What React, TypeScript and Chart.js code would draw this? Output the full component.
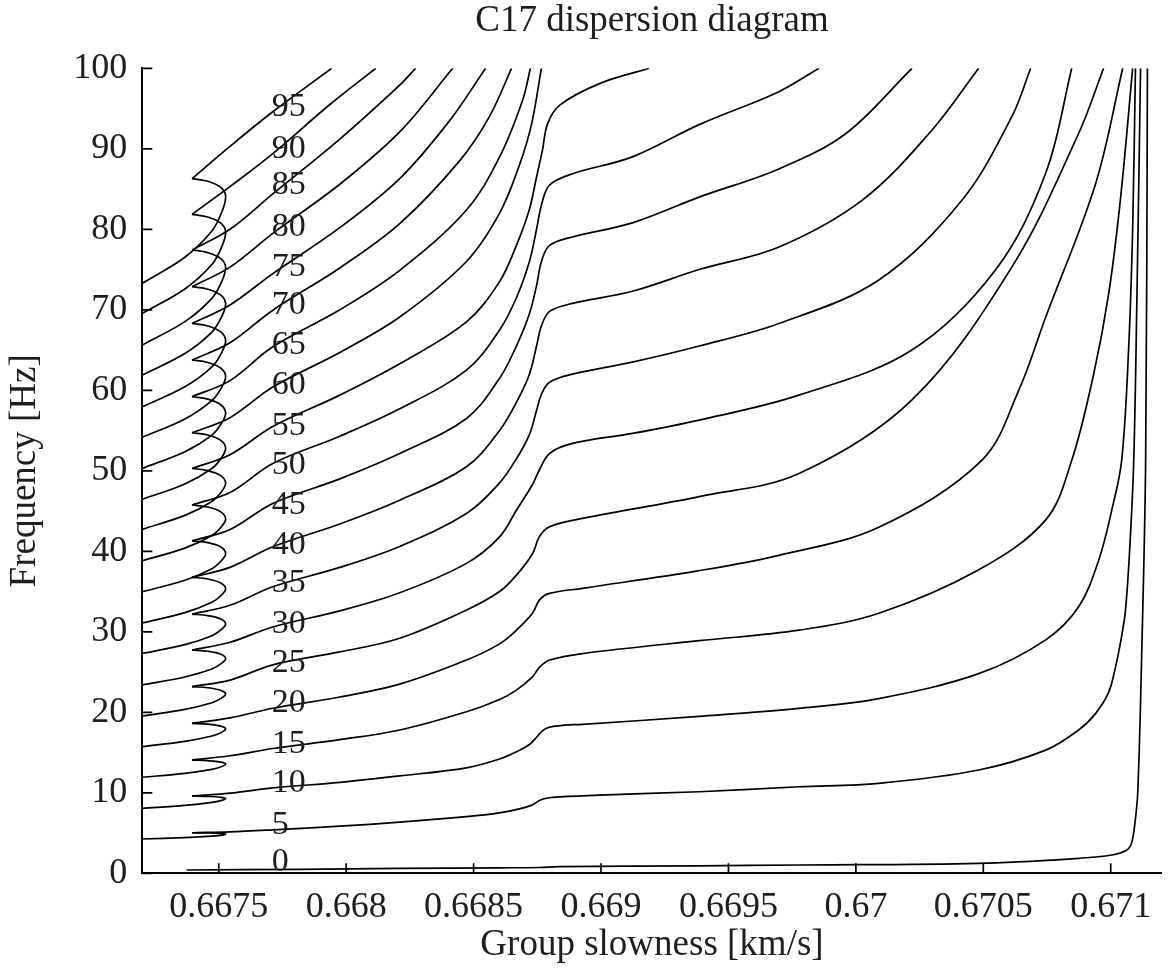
import { useEffect, useRef } from 'react';
import { Chart, registerables } from 'chart.js';

Chart.register(...registerables);

const FONT = '"Liberation Serif", "DejaVu Serif", serif';
const TEXT = '#1e1e1e';

// Axis ticks
const xTicks = [0.6675, 0.668, 0.6685, 0.669, 0.6695, 0.67, 0.6705, 0.671];
const yTicks = [0, 10, 20, 30, 40, 50, 60, 70, 80, 90, 100];

// Mode labels (text, frequency where the label sits) and their common slowness
const modeLabels = ['0', '5', '10', '15', '20', '25', '30', '35', '40', '45', '50', '55', '60', '65', '70', '75', '80', '85', '90', '95'];
const modeLabelFreq = [1.44, 6.0, 11.2, 16.1, 21.1, 26.1, 31.0, 36.0, 40.8, 45.7, 50.7, 55.5, 60.6, 65.6, 70.6, 75.3, 80.3, 85.5, 90.0, 95.2];
const modeLabelSlowness = 0.667708;

// Low-slowness swallowtail of modes 5..95: left edge -> turning point -> cusp
const loopSlowness = [0.6672, 0.667367, 0.667473, 0.667512, 0.667527, 0.667508, 0.667457, 0.667395];
const loopFreq = [
  [4.26, 4.44, 4.62, 4.75, 4.86, 4.95, 5.01, 5.04],
  [8.07, 8.43, 8.8, 9.06, 9.28, 9.44, 9.55, 9.6],
  [11.93, 12.42, 12.91, 13.27, 13.57, 13.82, 13.99, 14.07],
  [15.73, 16.39, 17.05, 17.53, 17.93, 18.28, 18.53, 18.63],
  [19.54, 20.36, 21.18, 21.79, 22.28, 22.73, 23.05, 23.18],
  [23.4, 24.39, 25.37, 26.1, 26.69, 27.22, 27.58, 27.74],
  [27.3, 28.41, 29.52, 30.33, 31.0, 31.6, 32.02, 32.2],
  [31.1, 32.38, 33.66, 34.6, 35.37, 36.07, 36.56, 36.77],
  [34.98, 36.41, 37.84, 38.89, 39.75, 40.53, 41.07, 41.3],
  [38.83, 40.4, 41.96, 43.11, 44.05, 44.9, 45.5, 45.75],
  [42.73, 44.46, 46.19, 47.46, 48.5, 49.4, 50.03, 50.3],
  [46.46, 48.37, 50.28, 51.68, 52.83, 53.78, 54.45, 54.73],
  [50.3, 52.37, 54.44, 55.96, 57.2, 58.2, 58.9, 59.2],
  [54.16, 56.44, 58.72, 60.39, 61.76, 62.76, 63.46, 63.76],
  [57.96, 60.43, 62.9, 64.72, 66.2, 67.25, 67.99, 68.3],
  [61.9, 64.56, 67.22, 69.17, 70.77, 71.82, 72.56, 72.87],
  [65.63, 68.53, 71.42, 73.54, 75.28, 76.36, 77.11, 77.43],
  [69.56, 72.59, 75.62, 77.84, 79.66, 80.76, 81.53, 81.86],
  [73.29, 76.53, 79.78, 82.15, 84.1, 85.2, 85.97, 86.3],
];

// Main branches: [group slowness, frequency]
const mode00 = [
  [0.667374, 0.41], [0.667818, 0.5], [0.66821, 0.6], [0.668602, 0.68], [0.668758, 0.72], [0.668837, 0.82],
  [0.669385, 0.93], [0.669777, 1.03], [0.670482, 1.24], [0.670874, 1.86], [0.671004, 2.27], [0.671063, 2.9],
  [0.671082, 3.8], [0.671094, 6], [0.671106, 10], [0.671121, 26.5], [0.671137, 51.3], [0.671144, 100],
];
const mode05 = [
  [0.667395, 5.04], [0.667544, 5.15], [0.667712, 5.4], [0.667975, 5.85], [0.66821, 6.35], [0.668472, 7.03],
  [0.668602, 7.5], [0.66868, 8.0], [0.668731, 8.5], [0.668758, 9.05], [0.66879, 9.35], [0.668837, 9.5],
  [0.668994, 9.72], [0.669385, 10.13], [0.669777, 10.75], [0.67009, 11.18], [0.670482, 12.83], [0.670745, 15.3],
  [0.670874, 17.8], [0.670941, 19.87], [0.670992, 22.5], [0.671019, 25.65], [0.671043, 29.5], [0.671058, 32.7],
  [0.671074, 40], [0.67109, 51], [0.671102, 70], [0.671117, 100],
];
const mode10 = [
  [0.667395, 9.6], [0.667544, 9.95], [0.667712, 10.6], [0.667975, 11.3], [0.66821, 12.1], [0.668472, 13.1],
  [0.668602, 14.2], [0.668668, 15.1], [0.668719, 16.0], [0.668747, 16.9], [0.66877, 17.7], [0.668798, 18.15],
  [0.668857, 18.4], [0.668927, 18.5], [0.669385, 19.5], [0.669777, 20.49], [0.67009, 21.7], [0.670482, 24.8],
  [0.670745, 29.0], [0.670874, 33.1], [0.670953, 38.9], [0.671004, 45.1], [0.671043, 51.3], [0.67107, 65],
  [0.671086, 80], [0.671097, 100],
];
const mode15 = [
  [0.667395, 14.07], [0.667544, 14.6], [0.667712, 15.5], [0.667975, 16.6], [0.66821, 17.8], [0.668472, 20.07],
  [0.668602, 21.6], [0.668668, 22.76], [0.668731, 24.4], [0.668758, 25.58], [0.668798, 26.49], [0.668927, 27.3],
  [0.669385, 28.9], [0.669777, 30.2], [0.67009, 32.3], [0.670482, 37.7], [0.670745, 43.9], [0.670847, 51.3],
  [0.670933, 62], [0.670992, 72], [0.671039, 84], [0.671086, 100],
];
const mode20 = [
  [0.667395, 18.63], [0.667544, 19.3], [0.667712, 20.5], [0.667975, 21.9], [0.66821, 23.5], [0.668472, 26.49],
  [0.668602, 28.5], [0.668668, 30.2], [0.668731, 32.3], [0.668758, 33.94], [0.668798, 34.77], [0.668927, 35.4],
  [0.669385, 37.6], [0.669698, 39.5], [0.67009, 43.0], [0.670494, 51.3], [0.670639, 60], [0.670745, 69.1],
  [0.670941, 85.7], [0.671047, 100],
];
const mode25 = [
  [0.667395, 23.18], [0.667544, 24.0], [0.667712, 25.9], [0.667975, 27.5], [0.66821, 29.2], [0.668472, 32.7],
  [0.668602, 35.0], [0.668668, 37.04], [0.668731, 39.7], [0.668758, 41.8], [0.668798, 43.04], [0.668927, 44.08],
  [0.669385, 46.8], [0.669777, 49.67], [0.67022, 58.8], [0.670612, 75.3], [0.670874, 91.9], [0.670972, 100],
];
const mode30 = [
  [0.667395, 27.74], [0.667544, 28.7], [0.667712, 30.6], [0.667975, 32.6], [0.66821, 34.85], [0.668472, 38.5],
  [0.668602, 41.8], [0.668668, 45.1], [0.668731, 48.3], [0.668758, 50.1], [0.668798, 52.15], [0.668888, 53.4],
  [0.669123, 54.64], [0.669385, 56.3], [0.669777, 59.4], [0.67022, 65], [0.670549, 75], [0.670745, 87],
  [0.670847, 100],
];
const mode35 = [
  [0.667395, 32.2], [0.667544, 33.3], [0.667712, 35.6], [0.667975, 38.0], [0.66821, 40.6], [0.668472, 44.7],
  [0.668602, 48.5], [0.668668, 51.5], [0.668719, 54.5], [0.668747, 57.5], [0.668766, 59.5], [0.668798, 61],
  [0.668888, 62], [0.669123, 63.5], [0.669385, 65.5], [0.669698, 68.3], [0.67009, 73.7], [0.670416, 83.6],
  [0.670612, 94], [0.670686, 100],
];
const mode40 = [
  [0.667395, 36.77], [0.667544, 38.0], [0.667712, 40.56], [0.667975, 43.4], [0.66821, 46.35], [0.668472, 50.5],
  [0.668602, 55], [0.668668, 58.5], [0.668719, 62], [0.668747, 65.5], [0.668766, 68], [0.668798, 69.8],
  [0.668888, 70.8], [0.669123, 72.3], [0.669385, 75], [0.669698, 77.8], [0.670024, 83.6], [0.670287, 91.9],
  [0.670482, 100],
];
const mode45 = [
  [0.667395, 41.3], [0.667544, 42.7], [0.667712, 45.95], [0.667975, 49.0], [0.66821, 52.15], [0.668472, 56.5],
  [0.668602, 61.5], [0.668668, 65.5], [0.668719, 69.5], [0.668747, 73], [0.668766, 76], [0.668798, 78],
  [0.668888, 79.05], [0.669123, 80.8], [0.669385, 84], [0.669698, 87.5], [0.669961, 91.9], [0.67022, 100],
];
const mode50 = [
  [0.667395, 45.75], [0.667544, 47.3], [0.667712, 50.9], [0.667975, 54.3], [0.66821, 57.7], [0.668472, 62.5],
  [0.668602, 67.5], [0.668668, 71.5], [0.668719, 76], [0.668747, 80], [0.668766, 83], [0.668798, 85.5],
  [0.668888, 86.9], [0.669123, 89], [0.669385, 93], [0.669698, 97.1], [0.669855, 100],
];
const mode55 = [
  [0.667395, 50.3], [0.667544, 52.0], [0.667712, 55.5], [0.667975, 59.4], [0.66821, 63.3], [0.668472, 68.5],
  [0.668602, 73.5], [0.668668, 78], [0.668719, 82.5], [0.668747, 86.5], [0.66877, 89.8], [0.66879, 93.1],
  [0.668837, 95.4], [0.668994, 98.1], [0.669189, 100],
];
const mode60 = [
  [0.667395, 54.73], [0.667544, 56.6], [0.667712, 60.4], [0.667975, 64.7], [0.66821, 69.1], [0.668472, 76],
  [0.668602, 82], [0.66868, 88], [0.668727, 93], [0.668766, 100],
];
const mode65 = [
  [0.667395, 59.2], [0.667544, 61.2], [0.667712, 65.4], [0.667975, 70.0], [0.66821, 74.9], [0.668472, 82.4],
  [0.668602, 89], [0.668692, 96], [0.668723, 100],
];
const mode70 = [
  [0.667395, 63.76], [0.667544, 65.9], [0.667712, 69.95], [0.667975, 75.2], [0.66821, 80.7], [0.668445, 88.5],
  [0.668562, 94], [0.668649, 100],
];
const mode75 = [
  [0.667395, 68.3], [0.667544, 70.6], [0.667712, 74.5], [0.667975, 80.2], [0.66821, 86.3], [0.668406, 93.5],
  [0.668547, 100],
];
const mode80 = [
  [0.667395, 72.87], [0.667544, 75.3], [0.667712, 79.5], [0.667975, 85.6], [0.66821, 92.1], [0.668418, 100],
];
const mode85 = [
  [0.667395, 77.43], [0.667544, 80.0], [0.667712, 84.4], [0.667975, 91.2], [0.66821, 97.9], [0.668272, 100],
];
const mode90 = [
  [0.667395, 81.86], [0.667544, 85.3], [0.667712, 89.4], [0.667936, 95.5], [0.668116, 100],
];
const mode95 = [
  [0.667395, 86.3], [0.667544, 90.3], [0.667712, 94.6], [0.667943, 100],
];

const mainBranches = [
  mode00, mode05, mode10, mode15, mode20, mode25, mode30, mode35, mode40, mode45,
  mode50, mode55, mode60, mode65, mode70, mode75, mode80, mode85, mode90, mode95,
];

function curve(points: { x: number; y: number }[]) {
  return {
    data: points,
    showLine: true,
    borderColor: '#000',
    borderWidth: 1.7,
    pointRadius: 0,
    pointHoverRadius: 0,
    tension: 0.35,
    fill: false,
  };
}

// Inward tick marks plus the mode numbers written next to the branches
const decorations = {
  id: 'decorations',
  afterDatasetsDraw(chart: any) {
    const { ctx, chartArea, scales } = chart;
    const xs = scales.x;
    const ys = scales.y;
    ctx.save();
    ctx.strokeStyle = '#000';
    ctx.lineWidth = 1.7;
    ctx.beginPath();
    for (const v of yTicks) {
      const y = ys.getPixelForValue(v);
      ctx.moveTo(chartArea.left, y);
      ctx.lineTo(chartArea.left + 10, y);
    }
    for (const v of xTicks) {
      const x = xs.getPixelForValue(v);
      ctx.moveTo(x, chartArea.bottom);
      ctx.lineTo(x, chartArea.bottom - 10);
    }
    ctx.stroke();

    ctx.fillStyle = TEXT;
    ctx.font = `34px ${FONT}`;
    ctx.textAlign = 'left';
    ctx.textBaseline = 'middle';
    const lx = xs.getPixelForValue(modeLabelSlowness);
    modeLabels.forEach((t, i) => {
      ctx.fillText(t, lx, ys.getPixelForValue(modeLabelFreq[i]));
    });
    ctx.restore();
  },
};

export default function App() {
  const ref = useRef<HTMLCanvasElement>(null);

  useEffect(() => {
    const datasets: any[] = [];
    mainBranches.forEach((b) => datasets.push(curve(b.map(([x, y]) => ({ x, y })))));
    loopFreq.forEach((row) => datasets.push(curve(loopSlowness.map((x, i) => ({ x, y: row[i] })))));

    const chart = new Chart(ref.current as HTMLCanvasElement, {
      type: 'scatter',
      data: { datasets },
      options: {
        animation: false,
        responsive: false,
        devicePixelRatio: 1,
        events: [],
        layout: { padding: { left: 0, right: 10.3, top: 1.3, bottom: 0 } },
        plugins: {
          legend: { display: false },
          tooltip: { enabled: false },
          title: {
            display: true,
            fullSize: false,
            text: 'C17 dispersion diagram',
            color: TEXT,
            font: { family: FONT, size: 37, weight: 'normal', lineHeight: 1 },
            padding: { top: 1, bottom: 29 },
          },
        },
        scales: {
          x: {
            type: 'linear',
            min: 0.6672,
            max: 0.6712,
            afterBuildTicks: (s: any) => {
              s.ticks = xTicks.map((v) => ({ value: v }));
            },
            afterFit: (s: any) => {
              s.height = 104.7;
            },
            grid: { display: false, drawTicks: false },
            border: { display: true, color: '#000', width: 2 },
            ticks: {
              autoSkip: false,
              maxRotation: 0,
              padding: 13,
              color: TEXT,
              font: { family: FONT, size: 36 },
              callback: (v: any) => String(v),
            },
            title: {
              display: true,
              text: 'Group slowness [km/s]',
              color: TEXT,
              font: { family: FONT, size: 37 },
              padding: { top: 0, bottom: 11 },
            },
          },
          y: {
            type: 'linear',
            min: 0,
            max: 100,
            afterBuildTicks: (s: any) => {
              s.ticks = yTicks.map((v) => ({ value: v }));
            },
            afterFit: (s: any) => {
              s.width = 142.3;
            },
            grid: { display: false, drawTicks: false },
            border: { display: true, color: '#000', width: 2 },
            ticks: {
              autoSkip: false,
              padding: 15,
              color: TEXT,
              font: { family: FONT, size: 36 },
              callback: (v: any) => String(v),
            },
            title: {
              display: true,
              text: 'Frequency [Hz]',
              color: TEXT,
              font: { family: FONT, size: 37 },
              padding: { top: 3, bottom: 0 },
            },
          },
        },
      },
      plugins: [decorations],
    } as any);

    return () => chart.destroy();
  }, []);

  return (
    <div style={{ position: 'absolute', left: 0, top: 0, width: 1172, height: 978, background: '#fff' }}>
      <canvas ref={ref} width={1172} height={978} style={{ display: 'block', width: 1172, height: 978 }} />
    </div>
  );
}
